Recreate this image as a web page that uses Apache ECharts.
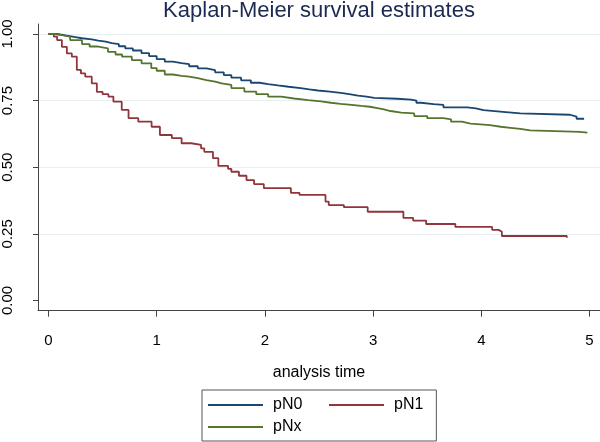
<!DOCTYPE html>
<html><head><meta charset="utf-8">
<script src="https://cdn.jsdelivr.net/npm/echarts@6/dist/echarts.min.js"></script>
<style>html,body{margin:0;padding:0;background:#fff}#c{width:600px;height:442px}</style>
</head><body><div id="c"></div>
<script>
const titleText = 'Kaplan-Meier survival estimates';
const xAxisName = 'analysis time';
const xTicks = [0, 1, 2, 3, 4, 5];
const yTicks = [0, 0.25, 0.5, 0.75, 1];
const seriesNames = ['pN0', 'pN1', 'pNx'];

const pN0Time = [0,0.08,0.155,0.25,0.31,0.40,0.46,0.53,0.585,0.65,0.71,0.78,0.86,0.93,1.0,1.075,1.15,1.23,1.30,1.38,1.46,1.54,1.62,1.69,1.78,1.87,1.95,2.03,2.12,2.22,2.33,2.41,2.49,2.60,2.70,2.78,2.86,2.94,3.01,3.22,3.35,3.40,3.44,3.56,3.65,3.87,3.95,4.02,4.20,4.36,4.82,4.88,4.95];
const pN0Surv = [1,0.995,0.988,0.984,0.98,0.975,0.971,0.966,0.962,0.954,0.946,0.938,0.928,0.917,0.906,0.896,0.891,0.887,0.879,0.871,0.864,0.856,0.846,0.836,0.826,0.817,0.812,0.807,0.802,0.797,0.792,0.788,0.784,0.779,0.774,0.769,0.765,0.760,0.757,0.754,0.750,0.742,0.737,0.734,0.725,0.721,0.714,0.708,0.702,0.697,0.690,0.682,0.682];

const pN1Time = [0,0.05,0.08,0.124,0.17,0.216,0.262,0.30,0.34,0.40,0.447,0.50,0.554,0.6,0.677,0.74,0.83,0.953,1.03,1.14,1.23,1.32,1.41,1.44,1.52,1.57,1.66,1.69,1.76,1.83,1.90,1.99,2.24,2.32,2.56,2.59,2.73,2.95,3.28,3.37,3.49,3.76,4.10,4.16,4.19,4.79];
const pN1Surv = [1,0.99,0.977,0.952,0.927,0.915,0.865,0.852,0.84,0.815,0.783,0.774,0.765,0.746,0.715,0.684,0.671,0.652,0.621,0.609,0.59,0.584,0.571,0.558,0.534,0.505,0.494,0.483,0.468,0.452,0.437,0.422,0.404,0.396,0.371,0.358,0.35,0.333,0.31,0.30,0.287,0.276,0.265,0.258,0.242,0.235];

const pNxTime = [0,0.06,0.125,0.2,0.31,0.38,0.46,0.55,0.62,0.68,0.77,0.86,0.95,1.0,1.075,1.15,1.23,1.30,1.38,1.46,1.54,1.60,1.69,1.81,1.92,2.03,2.15,2.27,2.40,2.52,2.61,2.70,2.80,2.89,2.97,3.04,3.10,3.16,3.26,3.38,3.50,3.65,3.72,3.82,3.90,4.08,4.18,4.27,4.36,4.45,4.91,4.98];
const pNxSurv = [1,0.996,0.99,0.977,0.962,0.953,0.946,0.933,0.923,0.915,0.902,0.89,0.872,0.862,0.848,0.843,0.840,0.834,0.827,0.821,0.815,0.809,0.797,0.784,0.774,0.765,0.758,0.752,0.747,0.742,0.738,0.734,0.730,0.727,0.722,0.717,0.711,0.705,0.702,0.692,0.684,0.680,0.671,0.664,0.658,0.652,0.648,0.644,0.638,0.633,0.630,0.630];

const colors = { pN0: '#1a476f', pN1: '#90353b', pNx: '#55752f' };
const FONT = "'Liberation Sans', Arial, sans-serif";
const zip = (t, s) => t.map((v, i) => [v, s[i]]);
const seriesData = { pN0: zip(pN0Time, pN0Surv), pN1: zip(pN1Time, pN1Surv), pNx: zip(pNxTime, pNxSurv) };

const chart = echarts.init(document.getElementById('c'), null, { renderer: 'canvas' });
const gridLeft = 36, gridTop = 24, gridBottom = 131.3;
const yMin = -0.0383, yMax = 1.0375, xMin = -0.0967, xMax = 5.0967;
const plotH = 442 - gridTop - gridBottom;
const pxPerY = plotH / (yMax - yMin);

const option = {
  backgroundColor: '#ffffff',
  animation: false,
  title: {
    text: titleText, left: 319, top: 0, padding: 0, textAlign: 'center',
    textStyle: { fontFamily: FONT, fontSize: 22, fontWeight: 'normal', color: '#1c2a52' }
  },
  grid: [
    { left: gridLeft, right: 0, top: gridTop, bottom: gridBottom, containLabel: false },
    { left: gridLeft, right: 0, top: gridTop + (yMax - 1) * pxPerY, height: 0.75 * pxPerY, containLabel: false }
  ],
  xAxis: [{
    type: 'value', gridIndex: 0, min: xMin, max: xMax,
    name: xAxisName, nameLocation: 'middle', nameGap: 54,
    nameTextStyle: { fontFamily: FONT, fontSize: 16, color: '#000' },
    axisLine: { show: true, onZero: false, lineStyle: { color: '#444', width: 1 } },
    axisTick: { show: true, length: 6, customValues: xTicks, lineStyle: { color: '#444' } },
    axisLabel: { customValues: xTicks, margin: 23, fontFamily: FONT, fontSize: 15, color: '#000', formatter: v => String(v) },
    splitLine: { show: false }
  }, {
    type: 'value', gridIndex: 1, min: xMin, max: xMax, show: false
  }],
  yAxis: [{
    type: 'value', gridIndex: 0, min: yMin, max: yMax,
    axisLine: { show: true, onZero: false, lineStyle: { color: '#444', width: 1 } },
    axisTick: { show: true, length: 5, customValues: yTicks, lineStyle: { color: '#444' } },
    axisLabel: { customValues: yTicks, rotate: 90, margin: 23, fontFamily: FONT, fontSize: 15, color: '#000', formatter: v => v.toFixed(2) },
    splitLine: { show: false }
  }, {
    type: 'value', gridIndex: 1, min: 0.25, max: 1, interval: 0.25,
    axisLine: { show: false }, axisTick: { show: false }, axisLabel: { show: false },
    splitLine: { show: true, lineStyle: { color: '#e8eff1', width: 1 } }
  }],
  legend: {
    left: 202, top: 390, orient: 'horizontal', width: 222,
    padding: [6, 13, 5, 6], itemGap: 4,
    borderColor: '#555', borderWidth: 1, backgroundColor: '#fff',
    icon: 'rect', itemWidth: 55, itemHeight: 2,
    textStyle: { fontFamily: FONT, fontSize: 16, color: '#000', lineHeight: 18, padding: [0, 0, 0, 5] },
    data: [
      { name: 'pN0', textStyle: { width: 52 } },
      { name: 'pN1' },
      { name: 'pNx' }
    ],
    selectedMode: false
  },
  series: seriesNames.map(n => ({
    name: n, type: 'line', xAxisIndex: 0, yAxisIndex: 0, step: 'end',
    data: seriesData[n], showSymbol: false, symbol: 'none',
    lineStyle: { color: colors[n], width: 1.8 }, itemStyle: { color: colors[n] },
    z: 3
  }))
};
chart.setOption(option);
</script></body></html>
